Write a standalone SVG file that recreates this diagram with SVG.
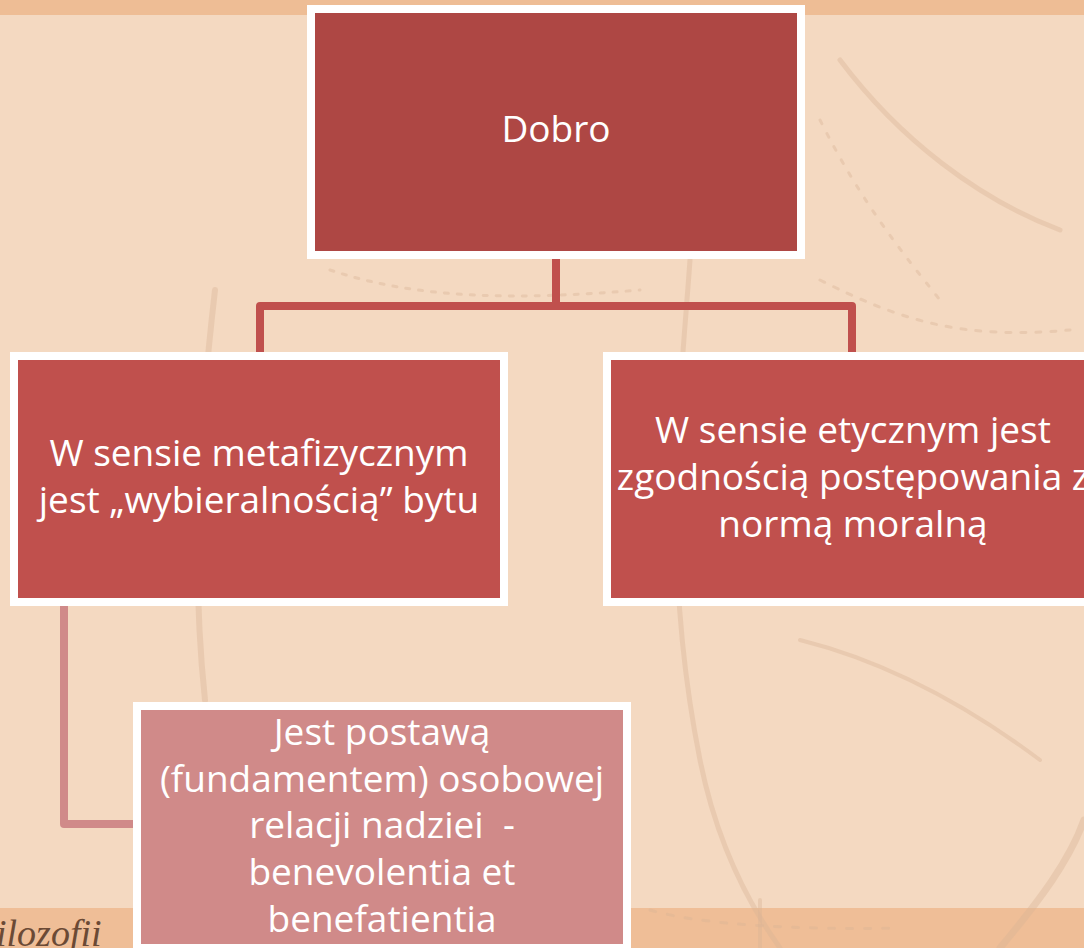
<svg xmlns="http://www.w3.org/2000/svg" width="1084" height="948" viewBox="0 0 1084 948">
  <style>
    .box { stroke: #ffffff; stroke-width: 8; }
    .lbl { font-family: "Open Sans", "Noto Sans", "DejaVu Sans", sans-serif; font-size: 37px; fill: #ffffff; text-anchor: middle; }
    .conn1 { fill: none; stroke: #c0504d; stroke-width: 8; stroke-linejoin: round; }
    .conn2 { fill: none; stroke: #d08a89; stroke-width: 8; stroke-linejoin: round; }
    .tex { fill: none; stroke: #d9b597; stroke-linecap: round; opacity: 0.4; }
  </style>
  <rect x="0" y="0" width="1084" height="948" fill="#f4d9c1"/>
  <rect x="0" y="0" width="1084" height="15" fill="#eebd95"/>
  <rect x="0" y="908" width="1084" height="40" fill="#efbe97"/>
  <g id="texture">
    <path class="tex" stroke-width="6" d="M215 290 C200 420 190 560 205 700"/>
    <path class="tex" stroke-width="5" d="M690 260 C680 400 660 560 700 760 C720 860 760 920 780 948"/>
    <path class="tex" stroke-width="5" d="M840 60 C900 140 980 200 1060 230"/>
    <path class="tex" stroke-width="7" d="M1000 948 C1040 900 1070 860 1084 820"/>
    <path class="tex" stroke-width="4" d="M800 640 C880 660 960 700 1040 760"/>
    <path class="tex" stroke-width="4" d="M760 900 L760 948"/>
    <path class="tex" stroke-width="3" stroke-dasharray="4 9" d="M330 270 C420 300 520 300 640 290"/>
    <path class="tex" stroke-width="3" stroke-dasharray="5 10" d="M820 280 C900 320 960 340 1070 330"/>
    <path class="tex" stroke-width="3" stroke-dasharray="6 12" d="M650 910 C700 925 800 930 900 928"/>
    <path class="tex" stroke-width="3" stroke-dasharray="4 11" d="M820 120 C860 200 900 250 940 300"/>
  </g>
  <g id="connectors">
    <path class="conn1" d="M556 255 V306 M260 356 V306 H852 V356"/>
    <path class="conn2" d="M64 602 V824 H137"/>
  </g>
  <g id="node-dobro">
    <rect class="box" x="311" y="9" width="490" height="246" fill="#ae4744"/>
    <text class="lbl" x="556" y="142">Dobro</text>
  </g>
  <g id="node-metafizyczny">
    <rect class="box" x="14" y="356" width="490" height="246" fill="#c0504d"/>
    <text class="lbl" x="259" y="466">W sensie metafizycznym</text>
    <text class="lbl" x="259" y="512.5">jest „wybieralnością” bytu</text>
  </g>
  <g id="node-etyczny">
    <rect class="box" x="607" y="356" width="492" height="246" fill="#c0504d"/>
    <text class="lbl" x="853" y="443">W sensie etycznym jest</text>
    <text class="lbl" x="853" y="490">zgodnością postępowania z</text>
    <text class="lbl" x="853" y="537">normą moralną</text>
  </g>
  <g id="node-postawa">
    <rect class="box" x="137" y="706" width="490" height="242" fill="#d08a89"/>
    <text class="lbl" x="382" y="745">Jest postawą</text>
    <text class="lbl" x="382" y="792">(fundamentem) osobowej</text>
    <text class="lbl" x="382" y="838" xml:space="preserve">relacji nadziei  -</text>
    <text class="lbl" x="382" y="885">benevolentia et</text>
    <text class="lbl" x="382" y="932">benefatientia</text>
  </g>
  <text x="-4" y="946" font-family="'Liberation Serif', 'DejaVu Serif', serif" font-style="italic" font-size="38" fill="#6b4a35">ilozofii</text>
</svg>
